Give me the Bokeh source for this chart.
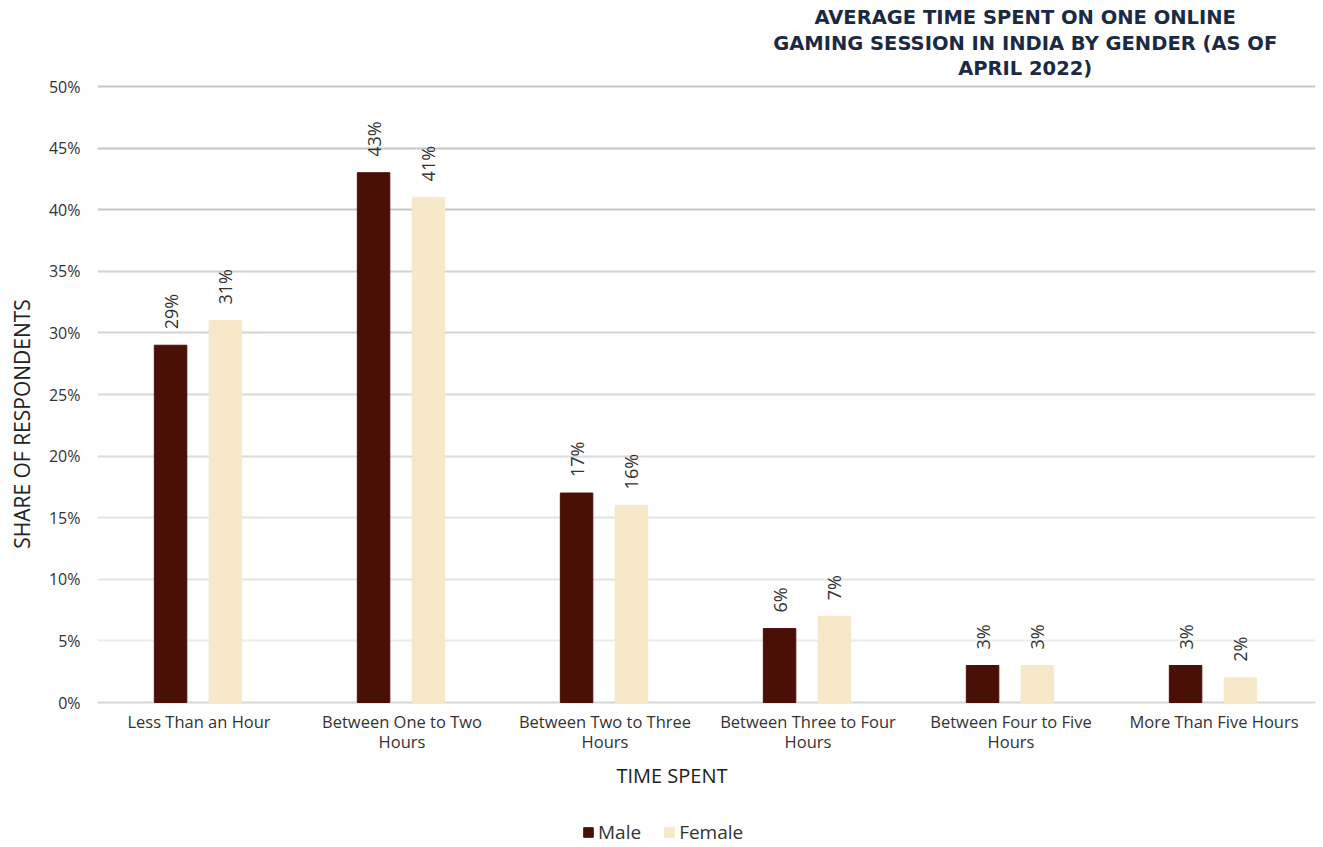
import math
from bokeh.plotting import figure
from bokeh.models import (ColumnDataSource, FactorRange, Range1d, Legend, LegendItem,
                          FixedTicker, Grid)
from bokeh.transform import dodge
from bokeh.core.properties import value
from bokeh.embed import file_html
from bokeh.resources import INLINE

categories = ["Less Than an Hour", "Between One to Two Hours", "Between Two to Three Hours",
              "Between Three to Four Hours", "Between Four to Five Hours", "More Than Five Hours"]
cat_line1 = ["Less Than an Hour", "Between One to Two", "Between Two to Three",
             "Between Three to Four", "Between Four to Five", "More Than Five Hours"]
cat_line2 = ["", "Hours", "Hours", "Hours", "Hours", ""]
male = [29, 43, 17, 6, 3, 3]
female = [31, 41, 16, 7, 3, 2]
y_ticks = [0, 5, 10, 15, 20, 25, 30, 35, 40, 45, 50]
title_lines = ["AVERAGE TIME SPENT ON ONE ONLINE",
               "GAMING SESSION IN INDIA BY GENDER (AS OF",
               "APRIL 2022)"]
x_title = "TIME SPENT"
y_title = "SHARE OF RESPONDENTS"

FONT = "Open Sans"
TXT = "#333333"

# frame covers the whole canvas height; 0 -> y=702px, 50 -> y=86px
PX = (702 - 86) / 50.0
y_lo = -(847 - 702) / PX
y_hi = 50 + 86 / PX

src = ColumnDataSource(dict(
    cat=categories, male=male, female=female,
    male_lbl=[f"{v}%" for v in male], female_lbl=[f"{v}%" for v in female],
    l1=cat_line1, l2=cat_line2, zero=[0] * len(categories),
))

p = figure(x_range=FactorRange(*categories, range_padding=0), y_range=Range1d(y_lo, y_hi),
           frame_width=1218, frame_height=847, output_backend="svg", toolbar_location=None,
           x_axis_location=None,
           min_border_left=97, min_border_right=8, min_border_top=0, min_border_bottom=0)
p.outline_line_color = None
p.xgrid.grid_line_color = None
p.ygrid.grid_line_color = None

# gridlines (slightly darker toward the top, as in the reference)
for ticks, col in (([0], "#d6d6d6"), ([5], "#ececec"), ([10, 15], "#e4e4e4"),
                   ([20, 25], "#dadada"), ([30, 35], "#d2d2d2"), ([40, 45, 50], "#c6c6c6")):
    g = Grid(dimension=1, ticker=FixedTicker(ticks=ticks), grid_line_color=col,
             grid_line_width=2)
    p.add_layout(g)

r_m = p.vbar(x=dodge("cat", -0.14, range=p.x_range), top="male", width=0.16, source=src,
             fill_color="#4a1008", line_color="#4a1008")
r_f = p.vbar(x=dodge("cat", 0.13, range=p.x_range), top="female", width=0.16, source=src,
             fill_color="#f6e8c8", line_color="#f6e8c8")

p.text(x=dodge("cat", -0.14, range=p.x_range), y="male", text="male_lbl", source=src,
       angle=math.pi / 2, text_align="left", text_baseline="middle", y_offset=-16,
       text_font=value(FONT), text_font_size="18px", text_color=TXT)
p.text(x=dodge("cat", 0.13, range=p.x_range), y="female", text="female_lbl", source=src,
       angle=math.pi / 2, text_align="left", text_baseline="middle", y_offset=-16,
       text_font=value(FONT), text_font_size="18px", text_color=TXT)

# category labels (two lines)
p.text(x="cat", y="zero", text="l1", source=src, y_offset=19, text_align="center",
       text_baseline="middle", text_font=value(FONT), text_font_size="16.5px", text_color=TXT)
p.text(x="cat", y="zero", text="l2", source=src, y_offset=39, text_align="center",
       text_baseline="middle", text_font=value(FONT), text_font_size="16.5px", text_color=TXT)

# x axis title
p.text(x=[2.83], y=[0], text=[x_title], y_offset=73, text_align="center",
       text_baseline="middle", text_font=value(FONT), text_font_size="20px", text_color="#222222")

# chart title
p.text(x=[4.57] * 3, y=[50] * 3, text=title_lines, y_offset=[-69, -43.5, -18],
       text_align="center", text_baseline="middle", text_font=value("DejaVu Sans"),
       text_font_style="bold", text_font_size="19.5px", text_color="#1b2a44")

p.yaxis.ticker = FixedTicker(ticks=y_ticks)
p.yaxis.major_label_overrides = {t: f"{t}%" for t in y_ticks}
p.yaxis.axis_line_color = None
p.yaxis.major_tick_line_color = None
p.yaxis.minor_tick_line_color = None
p.yaxis.major_label_text_font = FONT
p.yaxis.major_label_text_font_size = "16px"
p.yaxis.major_label_text_color = TXT
p.yaxis.major_label_standoff = 11
p.yaxis.axis_label = y_title
p.yaxis.axis_label_text_font = FONT
p.yaxis.axis_label_text_font_style = "normal"
p.yaxis.axis_label_text_font_size = "21px"
p.yaxis.axis_label_text_color = "#222222"
p.yaxis.axis_label_standoff = 10

legend = Legend(items=[LegendItem(label="Male", renderers=[r_m]),
                       LegendItem(label="Female", renderers=[r_f])],
                orientation="horizontal", location=(485, 2),
                label_text_font=FONT, label_text_font_size="19px", label_text_color=TXT,
                glyph_width=12, glyph_height=12, label_standoff=4, spacing=22,
                border_line_color=None, background_fill_alpha=0, margin=0, padding=2)
p.add_layout(legend)

open("out.html", "w").write(file_html(p, INLINE))
